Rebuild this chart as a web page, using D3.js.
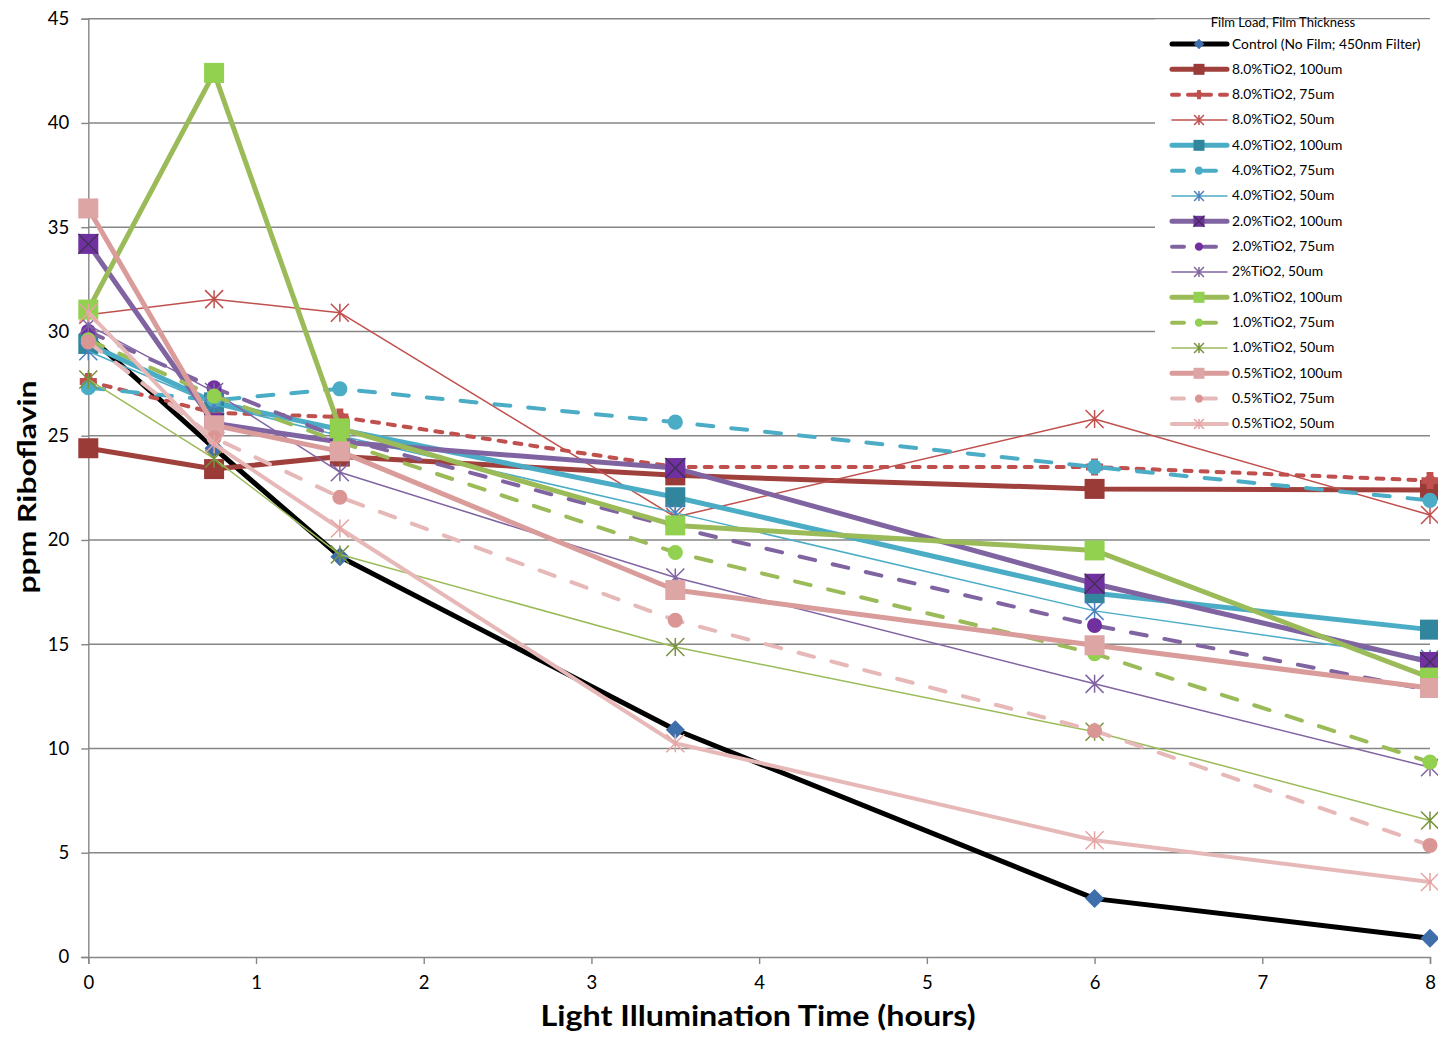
<!DOCTYPE html>
<html>
<head>
<meta charset="utf-8">
<script src="https://cdn.jsdelivr.net/npm/d3@7"></script>
<style>
  html, body { margin: 0; padding: 0; background: #fff; }
  svg { display: block; font-family: Lato, "Open Sans", sans-serif; }
</style>
</head>
<body>
<svg id="chart" width="1438" height="1038"></svg>
<script>
// Sampling times (hours)
const times = [0, 0.75, 1.5, 3.5, 6, 8];

// Riboflavin concentration (ppm) per film
const control   = [29.8, 24.4, 19.2, 10.9, 2.8, 0.9];
const ti8_100   = [24.4, 23.4, 24.0, 23.1, 22.45, 22.4];
const ti8_75    = [27.6, 26.1, 25.9, 23.5, 23.5, 22.85];
const ti8_50    = [30.8, 31.55, 30.9, 21.1, 25.8, 21.2];
const ti4_100   = [29.4, 26.6, 25.3, 22.05, 17.45, 15.7];
const ti4_75    = [27.3, 26.7, 27.25, 25.65, 23.5, 21.9];
const ti4_50    = [29.05, 26.5, 25.0, 21.3, 16.6, 14.3];
const ti2_100   = [34.2, 25.6, 24.7, 23.45, 17.9, 14.15];
const ti2_75    = [30.0, 27.3, 24.9, 20.6, 15.9, 12.8];
const ti2_50    = [30.3, 27.1, 23.25, 18.2, 13.1, 9.1];
const ti1_100   = [31.05, 42.4, 25.35, 20.7, 19.5, 13.4];
const ti1_75    = [29.6, 26.9, 24.7, 19.4, 14.55, 9.35];
const ti1_50    = [27.7, 23.9, 19.3, 14.87, 10.8, 6.55];
const ti05_100  = [35.9, 25.5, 24.25, 17.6, 14.95, 12.9];
const ti05_75   = [29.5, 24.9, 22.05, 16.15, 10.85, 5.35];
const ti05_50   = [30.9, 24.6, 20.55, 10.25, 5.6, 3.6];

const seriesNames = [
  "Control (No Film; 450nm Filter)",
  "8.0%TiO2, 100um", "8.0%TiO2, 75um", "8.0%TiO2, 50um",
  "4.0%TiO2, 100um", "4.0%TiO2, 75um", "4.0%TiO2, 50um",
  "2.0%TiO2, 100um", "2.0%TiO2, 75um", "2%TiO2, 50um",
  "1.0%TiO2, 100um", "1.0%TiO2, 75um", "1.0%TiO2, 50um",
  "0.5%TiO2, 100um", "0.5%TiO2, 75um", "0.5%TiO2, 50um"
];
const seriesValues = [control, ti8_100, ti8_75, ti8_50, ti4_100, ti4_75, ti4_50,
  ti2_100, ti2_75, ti2_50, ti1_100, ti1_75, ti1_50, ti05_100, ti05_75, ti05_50];

const xTicks = [0, 1, 2, 3, 4, 5, 6, 7, 8];
const yTicks = [0, 5, 10, 15, 20, 25, 30, 35, 40, 45];

// Line / marker styling per series
const styles = [
  { line: "#000000", w: 5, dash: null, marker: "diamond", fill: "#3F6FAA" },
  { line: "#A0403D", w: 5, dash: null, marker: "square", fill: "#9A3B38" },
  { line: "#C0504D", w: 4, dash: "7,9", marker: "cross", fill: "#C0504D" },
  { line: "#C0504D", w: 1.5, dash: null, marker: "star", fill: "#C0504D" },
  { line: "#4BACC6", w: 5, dash: null, marker: "square", fill: "#31859C" },
  { line: "#4BACC6", w: 4, dash: "16,18", marker: "circle", fill: "#4BACC6" },
  { line: "#4BACC6", w: 1.5, dash: null, marker: "star", fill: "#4F81BD" },
  { line: "#8064A2", w: 5, dash: null, marker: "squareX", fill: "#7030A0" },
  { line: "#8064A2", w: 4, dash: "16,18", marker: "circle", fill: "#7030A0" },
  { line: "#8064A2", w: 1.5, dash: null, marker: "star", fill: "#8064A2" },
  { line: "#9BBB59", w: 5, dash: null, marker: "square", fill: "#92D050" },
  { line: "#9BBB59", w: 4, dash: "16,18", marker: "circle", fill: "#92D050" },
  { line: "#9BBB59", w: 1.5, dash: null, marker: "star", fill: "#77933C" },
  { line: "#D99C9A", w: 5, dash: null, marker: "square", fill: "#DDA5A3" },
  { line: "#E6B9B8", w: 4, dash: "16,18", marker: "circle", fill: "#DA9694" },
  { line: "#E6B9B8", w: 4, dash: null, marker: "star", fill: "#E6A3A2" }
];

const svg = d3.select("#chart");
const x = d3.scaleLinear().domain([0, 8]).range([88.3, 1430]);
const y = d3.scaleLinear().domain([0, 45]).range([957, 18.7]);
const gridColor = "#868686";

// Horizontal gridlines
svg.append("g").selectAll("line").data(yTicks.filter(v => v > 0)).join("line")
  .attr("x1", x(0)).attr("x2", x(8))
  .attr("y1", d => y(d)).attr("y2", d => y(d))
  .attr("stroke", gridColor).attr("stroke-width", 1.4);

// Axes
const yAxis = d3.axisLeft(y).tickValues(yTicks).tickSize(7).tickPadding(12).tickFormat(d3.format("d"));
const xAxis = d3.axisBottom(x).tickValues(xTicks).tickSize(7).tickPadding(12).tickFormat(d3.format("d"));
const gy = svg.append("g").attr("transform", `translate(${x(0)},0)`).call(yAxis);
const gx = svg.append("g").attr("transform", `translate(0,${y(0)})`).call(xAxis);
[gx, gy].forEach(g => {
  g.select(".domain").attr("stroke", gridColor).attr("stroke-width", 1.4);
  g.selectAll(".tick line").attr("stroke", gridColor).attr("stroke-width", 1.4);
  g.selectAll(".tick text").attr("fill", "#000").attr("font-size", 18.5)
    .attr("font-family", "Lato, 'Open Sans', sans-serif");
});

// Marker drawing
function drawMarker(g, type, fill, size) {
  const s = size;
  if (type === "diamond") {
    g.append("path").attr("d", `M0,${-s*0.5}L${s*0.5},0L0,${s*0.5}L${-s*0.5},0Z`).attr("fill", fill);
  } else if (type === "square") {
    g.append("rect").attr("x", -s/2).attr("y", -s/2).attr("width", s).attr("height", s).attr("fill", fill);
  } else if (type === "squareX") {
    g.append("rect").attr("x", -s/2).attr("y", -s/2).attr("width", s).attr("height", s).attr("fill", fill);
    g.append("path").attr("d", `M${-s/2},${-s/2}L${s/2},${s/2}M${s/2},${-s/2}L${-s/2},${s/2}`)
      .attr("stroke", "#3F3151").attr("stroke-width", 1.3);
  } else if (type === "circle") {
    g.append("circle").attr("r", s * 0.42).attr("fill", fill);
  } else if (type === "cross") {
    const a = s * 0.45, b = s * 0.18;
    g.append("path").attr("d", `M${-b},${-a}H${b}V${-b}H${a}V${b}H${b}V${a}H${-b}V${b}H${-a}V${-b}H${-b}Z`).attr("fill", fill);
    g.append("circle").attr("r", s * 0.3).attr("fill", fill);
  } else if (type === "star") {
    const h = s / 2;
    g.append("path").attr("d", `M0,${-h}V${h}M${-h},${-h}L${h},${h}M${h},${-h}L${-h},${h}`)
      .attr("stroke", fill).attr("stroke-width", 1.5).attr("fill", "none");
  }
}
const markerSize = { diamond: 19, square: 20, squareX: 20, circle: 18, cross: 19, star: 18 };

// Series
const line = d3.line().x((d, i) => x(times[i])).y(d => y(d));
const plot = svg.append("g");
seriesValues.forEach((vals, k) => {
  const st = styles[k];
  const g = plot.append("g");
  g.append("path").datum(vals).attr("d", line)
    .attr("fill", "none").attr("stroke", st.line).attr("stroke-width", st.w)
    .attr("stroke-linejoin", "round").attr("stroke-linecap", "round")
    .attr("stroke-dasharray", st.dash);
  vals.forEach((v, i) => {
    const m = g.append("g").attr("transform", `translate(${x(times[i])},${y(v)})`);
    drawMarker(m, st.marker, st.fill, markerSize[st.marker]);
  });
});

// Legend
const lg = svg.append("g");
lg.append("rect").attr("x", 1155).attr("y", 19.5).attr("width", 283).attr("height", 412).attr("fill", "#fff");
lg.append("text").attr("x", 1283).attr("y", 26.5).attr("text-anchor", "middle")
  .attr("font-size", 13).attr("fill", "#000").text("Film Load, Film Thickness");
seriesNames.forEach((name, k) => {
  const st = styles[k];
  const cy = 44 + k * 25.33;
  const row = lg.append("g");
  row.append("line").attr("x1", 1172).attr("x2", 1227).attr("y1", cy).attr("y2", cy)
    .attr("stroke", st.line).attr("stroke-width", st.w)
    .attr("stroke-linecap", "round")
    .attr("stroke-dasharray", st.dash ? (k === 2 ? "7,9" : "12,20") : null);
  const m = row.append("g").attr("transform", `translate(1199,${cy})`);
  drawMarker(m, st.marker, st.fill, markerSize[st.marker] * 0.55);
  row.append("text").attr("x", 1232).attr("y", cy + 4.5).attr("font-size", 13.8)
    .attr("fill", "#000").text(name);
});

// Axis titles
svg.append("text").attr("x", 758).attr("y", 1026).attr("text-anchor", "middle")
  .attr("font-size", 29).attr("font-weight", "bold").attr("fill", "#000")
  .attr("textLength", 435).attr("lengthAdjust", "spacingAndGlyphs")
  .text("Light Illumination Time (hours)");
svg.append("text").attr("transform", "translate(36,487) rotate(-90)").attr("text-anchor", "middle")
  .attr("font-size", 25).attr("font-weight", "bold").attr("fill", "#000")
  .attr("textLength", 213).attr("lengthAdjust", "spacingAndGlyphs")
  .text("ppm Riboflavin");
</script>
</body>
</html>
